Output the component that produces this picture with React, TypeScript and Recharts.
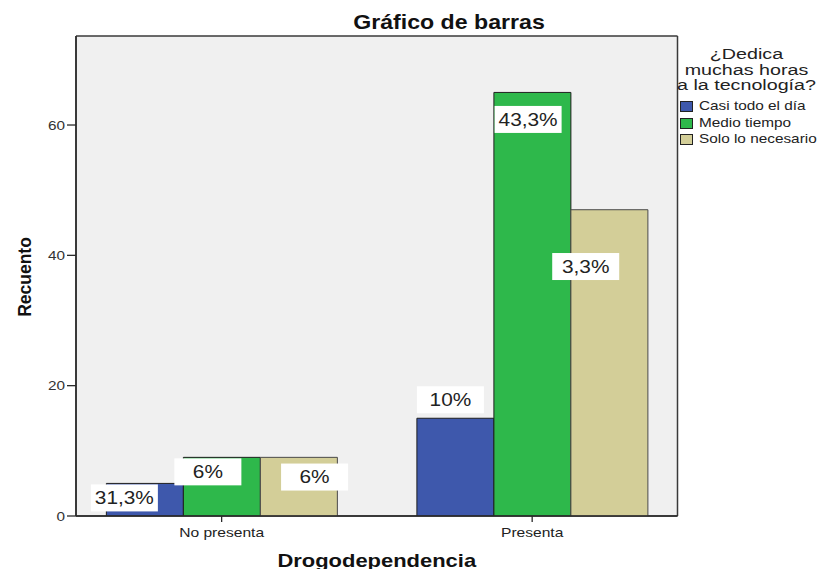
import React from 'react';
import { BarChart, Bar, XAxis, YAxis, CartesianGrid, LabelList, Legend } from 'recharts';

// ---- data ----
const categories = ['No presenta', 'Presenta'];
const seriesNames = ['Casi todo el día', 'Medio tiempo', 'Solo lo necesario'];
const casiTodo = [5, 15];
const medioTiempo = [9, 65];
const soloNecesario = [9, 47];
const casiTodoLabels = ['31,3%', '10%'];
const medioTiempoLabels = ['6%', '43,3%'];
const soloNecesarioLabels = ['6%', '3,3%'];
const yTicks = [0, 20, 40, 60];
const legendTitle = ['¿Dedica', 'muchas horas', 'a la tecnología?'];
const chartTitle = 'Gráfico de barras';
const xTitle = 'Drogodependencia';
const yTitle = 'Recuento';

const data = categories.map((c, i) => ({
  x: i,
  name: c,
  s0: casiTodo[i],
  s1: medioTiempo[i],
  s2: soloNecesario[i],
  l0: casiTodoLabels[i],
  l1: medioTiempoLabels[i],
  l2: soloNecesarioLabels[i],
}));

// ---- style / layout ----
const FONT = '"Liberation Sans", Arial, sans-serif';
const COLORS = ['#3E58AC', '#2EB84B', '#D3CE98'];
const STROKES = ['#1f1f1f', '#1f1f1f', '#4a4a4a'];
const STRETCH = 1.19;
// label box nudges relative to bar top-centre (annotation placement)
const LABEL_NUDGES = [
  [{ dx: -20.5, dy: 14.5 }, { dx: -5, dy: -18.5 }],
  [{ dx: -14, dy: 14.5 }, { dx: -4.3, dy: 27 }],
  [{ dx: 15.7, dy: 19.7 }, { dx: -23.7, dy: 56.8 }],
];

const makeLabel = (nudges: { dx: number; dy: number }[]) => (props: any) => {
  const { x, y, width, value, index } = props;
  const n = nudges[index] || { dx: 0, dy: 14 };
  const cx = Number(x) + Number(width) / 2 + n.dx;
  const cy = Number(y) + n.dy;
  return (
    <g>
      <rect x={cx - 33.5} y={cy - 13.5} width={67} height={27} fill="#ffffff" />
      <text
        transform={`translate(${cx},${cy + 6.3}) scale(${STRETCH},1)`}
        textAnchor="middle"
        fontFamily={FONT}
        fontSize={17.5}
        fill="#222"
      >
        {value}
      </text>
    </g>
  );
};

const YTick = (props: any) => {
  const { x, y, payload } = props;
  return (
    <text
      transform={`translate(${x},${y}) scale(1.18,1)`}
      textAnchor="end"
      dy="0.36em"
      fontFamily={FONT}
      fontSize={13}
      fill="#333"
    >
      {payload.value}
    </text>
  );
};

const XTick = (props: any) => {
  const { x, y, payload } = props;
  return (
    <text
      transform={`translate(${x},${y}) scale(1.2,1)`}
      textAnchor="middle"
      dy="0.71em"
      fontFamily={FONT}
      fontSize={13}
      fill="#222"
    >
      {categories[payload.value]}
    </text>
  );
};

const XTitle = (props: any) => {
  const vb = props.viewBox || { x: 76, y: 516, width: 601, height: 53 };
  return (
    <text
      transform={`translate(${vb.x + vb.width / 2},${vb.y + 50.5}) scale(1.22,1)`}
      textAnchor="middle"
      fontFamily={FONT}
      fontWeight="bold"
      fontSize={18}
      fill="#111"
    >
      {xTitle}
    </text>
  );
};

const YTitle = (props: any) => {
  const vb = props.viewBox || { x: 0, y: 36, width: 76, height: 480 };
  return (
    <text
      transform={`translate(${vb.x + 31},${vb.y + vb.height / 2 + 1}) rotate(-90)`}
      textAnchor="middle"
      fontFamily={FONT}
      fontWeight="bold"
      fontSize={17.5}
      fill="#111"
    >
      {yTitle}
    </text>
  );
};

const renderLegend = (props: any) => {
  const payload = (props.payload && props.payload.length
    ? props.payload
    : seriesNames.map((n, i) => ({ value: n, color: COLORS[i] }))) as any[];
  return (
    <div style={{ fontFamily: FONT, color: '#222' }}>
      <div
        style={{
          fontSize: 15.5,
          lineHeight: '15.5px',
          textAlign: 'center',
          transform: 'scaleX(1.27)',
          transformOrigin: '50% 50%',
        }}
      >
        {legendTitle.map((t) => (
          <div key={t}>{t}</div>
        ))}
      </div>
      <div style={{ marginTop: 5.4 }}>
        {payload.map((p, i) => (
          <div
            key={p.value}
            style={{ display: 'flex', alignItems: 'center', height: 16.5, marginLeft: 8 }}
          >
            <div
              style={{
                width: 13,
                height: 11,
                background: COLORS[i],
                border: '1px solid #222',
                boxSizing: 'border-box',
                flex: '0 0 auto',
              }}
            />
            <div
              style={{
                fontSize: 13,
                lineHeight: '16.5px',
                marginLeft: 6,
                whiteSpace: 'nowrap',
                transform: 'scaleX(1.18)',
                transformOrigin: '0 50%',
              }}
            >
              {p.value}
            </div>
          </div>
        ))}
      </div>
    </div>
  );
};

export default function App() {
  return (
    <div style={{ position: 'absolute', left: 0, top: 0, width: 821, height: 569, background: '#fff' }}>
      <div
        style={{
          position: 'absolute',
          left: 0,
          width: 898,
          top: 13.3,
          textAlign: 'center',
          fontFamily: FONT,
          fontWeight: 'bold',
          fontSize: 19.3,
          lineHeight: '20px',
          color: '#111',
          transform: 'scaleX(1.2)',
          transformOrigin: '449px 50%',
          zIndex: 2,
        }}
      >
        {chartTitle}
      </div>
      <BarChart
        width={821}
        height={569}
        data={data}
        margin={{ top: 36, right: 143.5, bottom: 0, left: 0 }}
        barGap={0}
      >
        <CartesianGrid
          fill="#F0F0F0"
          stroke="#3a3a3a"
          strokeWidth={1.5}
          horizontalCoordinatesGenerator={(p: any) => [p.offset.top, p.offset.top + p.offset.height]}
          verticalCoordinatesGenerator={(p: any) => [p.offset.left, p.offset.left + p.offset.width]}
        />
        <XAxis
          type="number"
          dataKey="x"
          domain={[-0.469, 1.468]}
          ticks={[0, 1]}
          allowDataOverflow
          interval={0}
          height={53}
          tickSize={6}
          tickMargin={6}
          tick={<XTick />}
          axisLine={{ stroke: '#2a2a2a', strokeWidth: 1.5 }}
          tickLine={{ stroke: '#2a2a2a', strokeWidth: 1.3 }}
          label={<XTitle />}
        />
        <YAxis
          type="number"
          domain={[0, 73.66]}
          ticks={yTicks}
          allowDataOverflow
          width={76}
          tickSize={9}
          tickMargin={2}
          tick={<YTick />}
          axisLine={{ stroke: '#2a2a2a', strokeWidth: 1.5 }}
          tickLine={{ stroke: '#2a2a2a', strokeWidth: 1.3 }}
          label={<YTitle />}
        />
        <Legend
          layout="vertical"
          align="center"
          verticalAlign="middle"
          wrapperStyle={{ left: 672, top: 46.4, width: 149 }}
          content={renderLegend}
        />
        <Bar dataKey="s0" name={seriesNames[0]} fill={COLORS[0]} stroke={STROKES[0]} strokeWidth={1} barSize={77} isAnimationActive={false}>
          <LabelList dataKey="l0" content={makeLabel(LABEL_NUDGES[0])} />
        </Bar>
        <Bar dataKey="s1" name={seriesNames[1]} fill={COLORS[1]} stroke={STROKES[1]} strokeWidth={1} barSize={77} isAnimationActive={false}>
          <LabelList dataKey="l1" content={makeLabel(LABEL_NUDGES[1])} />
        </Bar>
        <Bar dataKey="s2" name={seriesNames[2]} fill={COLORS[2]} stroke={STROKES[2]} strokeWidth={1} barSize={77} isAnimationActive={false}>
          <LabelList dataKey="l2" content={makeLabel(LABEL_NUDGES[2])} />
        </Bar>
      </BarChart>
    </div>
  );
}
